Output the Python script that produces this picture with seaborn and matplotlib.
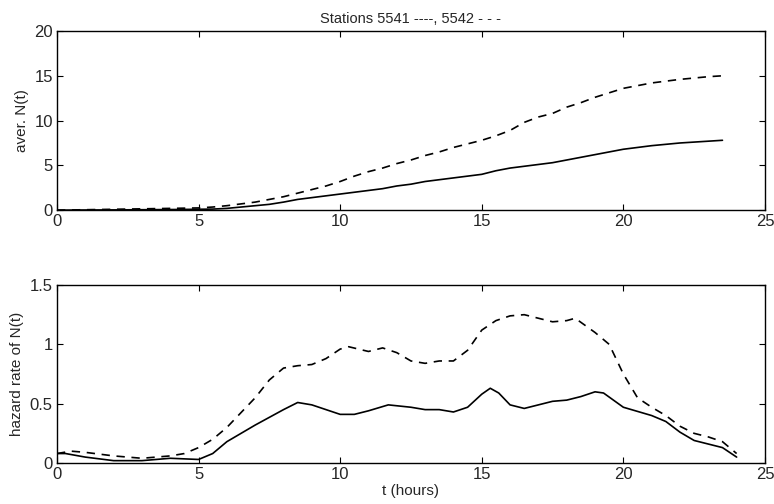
import numpy as np
import pandas as pd
import matplotlib
matplotlib.use("Agg")
import matplotlib.pyplot as plt
import seaborn as sns

# Top panel: average N(t)
t_top = [0, 1, 2, 3, 4, 5, 5.5, 6, 6.5, 7, 7.5, 8, 8.5, 9, 9.5, 10, 10.5, 11, 11.5, 12, 12.5,
         13, 13.5, 14, 14.5, 15, 15.5, 16, 16.5, 17, 17.5, 18, 18.5, 19, 19.5, 20, 20.5,
         21, 21.5, 22, 22.5, 23, 23.5]
n_5541 = [0, 0.02, 0.03, 0.05, 0.07, 0.1, 0.12, 0.2, 0.35, 0.5, 0.65, 0.9, 1.2, 1.4, 1.6, 1.8,
          2.0, 2.2, 2.4, 2.7, 2.9, 3.2, 3.4, 3.6, 3.8, 4.0, 4.4, 4.7, 4.9, 5.1, 5.3, 5.6,
          5.9, 6.2, 6.5, 6.8, 7.0, 7.2, 7.35, 7.5, 7.6, 7.7, 7.8]
n_5542 = [0, 0.05, 0.1, 0.15, 0.2, 0.25, 0.35, 0.5, 0.7, 0.9, 1.2, 1.5, 1.9, 2.3, 2.7, 3.2,
          3.8, 4.3, 4.7, 5.2, 5.6, 6.1, 6.5, 7.0, 7.4, 7.8, 8.3, 8.9, 9.8, 10.4, 10.8, 11.5,
          12.0, 12.6, 13.1, 13.6, 13.9, 14.2, 14.4, 14.6, 14.75, 14.9, 15.0]

# Bottom panel: hazard rate of N(t)
t_haz = [0, 0.3, 1, 2, 3, 4, 5, 5.5, 6, 7, 8, 8.5, 9, 10, 10.5, 11, 11.7, 12.5, 13, 13.5, 14,
         14.5, 15, 15.3, 15.6, 16, 16.5, 17, 17.5, 18, 18.5, 19, 19.3, 20, 21, 21.5, 22,
         22.5, 23, 23.5, 24]
h_5541 = [0.08, 0.08, 0.05, 0.02, 0.02, 0.04, 0.03, 0.08, 0.18, 0.32, 0.45, 0.51, 0.49,
          0.41, 0.41, 0.44, 0.49, 0.47, 0.45, 0.45, 0.43, 0.47, 0.58, 0.63, 0.59, 0.49,
          0.46, 0.49, 0.52, 0.53, 0.56, 0.6, 0.59, 0.47, 0.40, 0.35, 0.26, 0.19, 0.16,
          0.13, 0.05]
t_haz2 = [0, 0.5, 1, 2, 3, 4, 4.5, 5, 5.5, 6, 7, 7.5, 8, 8.5, 9, 9.5, 10, 10.3, 11, 11.5,
          12, 12.5, 13, 13.5, 14, 14.5, 15, 15.5, 16, 16.5, 17, 17.5, 18, 18.3, 19, 19.5,
          20, 20.5, 21, 21.5, 22, 22.5, 23, 23.5, 24]
h_5542 = [0.08, 0.10, 0.09, 0.06, 0.04, 0.06, 0.08, 0.13, 0.2, 0.3, 0.55, 0.7, 0.8, 0.82,
          0.83, 0.88, 0.96, 0.98, 0.94, 0.97, 0.93, 0.86, 0.84, 0.86, 0.86, 0.95, 1.12,
          1.2, 1.24, 1.25, 1.22, 1.19, 1.2, 1.22, 1.1, 1.0, 0.75, 0.55, 0.47, 0.40, 0.31,
          0.25, 0.22, 0.18, 0.08]

sns.set_style("white")
plt.rcParams['font.family'] = ['Liberation Sans', 'DejaVu Sans']

fig = plt.figure(figsize=(7.74, 5.04), dpi=100)
ax1 = fig.add_axes([0.0736, 0.583, 0.9147, 0.3555])
ax2 = fig.add_axes([0.0736, 0.0813, 0.9147, 0.3532])

sns.lineplot(x=t_top, y=n_5541, ax=ax1, color='k', lw=1.2)
sns.lineplot(x=t_top, y=n_5542, ax=ax1, color='k', lw=1.2, linestyle=(0, (5, 4)))
sns.lineplot(x=t_haz, y=h_5541, ax=ax2, color='k', lw=1.2)
sns.lineplot(x=t_haz2, y=h_5542, ax=ax2, color='k', lw=1.2, linestyle=(0, (5, 4)))

ax1.set_xlim(0, 25)
ax1.set_ylim(0, 20)
ax1.set_xticks([0, 5, 10, 15, 20, 25])
ax1.set_yticks([0, 5, 10, 15, 20])
ax1.set_ylabel('aver. N(t)', fontsize=11)
ax1.set_title('Stations 5541 ----, 5542 - - -', fontsize=10.5)

ax2.set_xlim(0, 25)
ax2.set_ylim(0, 1.5)
ax2.set_xticks([0, 5, 10, 15, 20, 25])
ax2.set_yticks([0, 0.5, 1, 1.5])
ax2.set_yticklabels(['0', '0.5', '1', '1.5'])
ax2.set_ylabel('hazard rate of N(t)', fontsize=11)
ax2.set_xlabel('t (hours)', fontsize=11, labelpad=1)

for ax in (ax1, ax2):
    ax.tick_params(direction='in', top=True, right=True, bottom=True, left=True,
                   labelsize=12, length=4, width=0.8, pad=3, color='k')
    for s in ax.spines.values():
        s.set_color('k')
        s.set_linewidth(1.0)

fig.savefig('out.png', dpi=100)
